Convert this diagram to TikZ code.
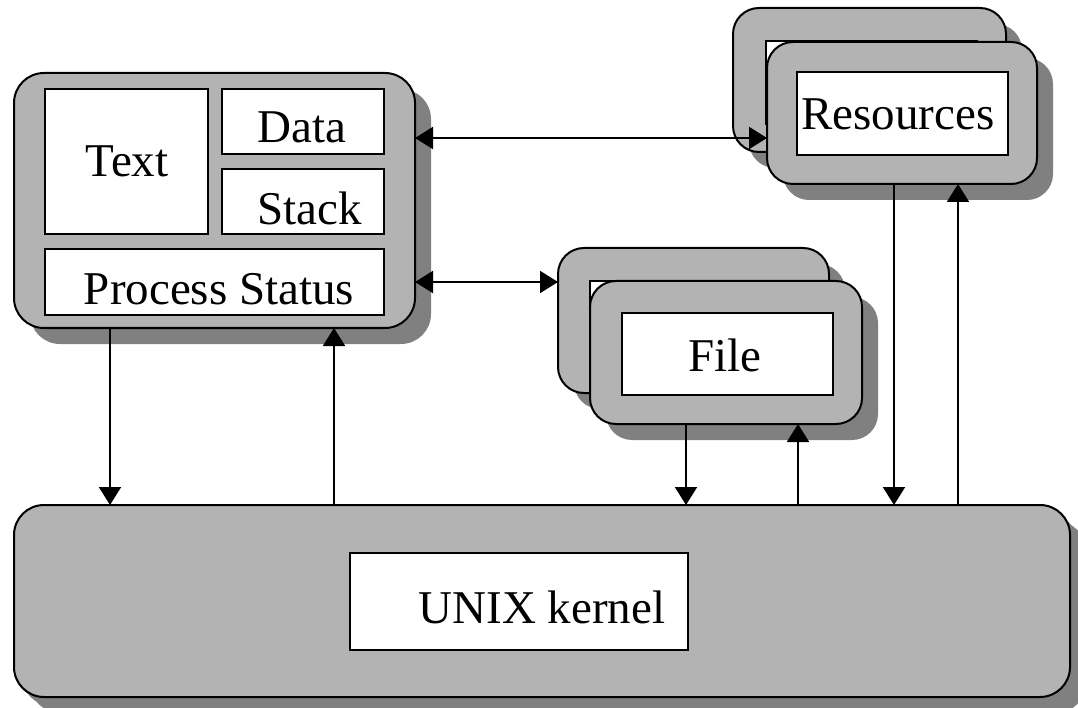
\documentclass[tikz,border=0pt]{standalone}
\usepackage{fontspec}
\setmainfont{Liberation Serif}
\usetikzlibrary{arrows.meta,shadows}
\definecolor{boxgray}{HTML}{B3B3B3}
\definecolor{shadowgray}{HTML}{808080}
\tikzset{
  >={Triangle[length=18pt,width=22pt]},
  outerbox/.style={rectangle,draw,line width=2pt,fill=boxgray,rounded corners=#1,inner sep=0pt,outer sep=0pt,
    drop shadow={shadow xshift=16pt,shadow yshift=-16pt,fill=shadowgray,opacity=1}},
  outerbox/.default=26pt,
  innerbox/.style={rectangle,draw,line width=2pt,fill=white,inner sep=0pt,outer sep=0pt},
  lbl/.style={anchor=base,inner sep=0pt,font=\fontsize{47}{50}\selectfont},
  conn/.style={line width=2pt}
}
\begin{document}
\begin{tikzpicture}[x=1pt,y=-1pt]
\useasboundingbox (0,0) rectangle (1078,708);
% kernel
\node[outerbox=30pt,drop shadow={shadow xshift=8pt,shadow yshift=-9pt,fill=shadowgray,opacity=1},minimum width=1056pt,minimum height=192pt] (kern) at (542,601) {};
\node[innerbox,minimum width=338pt,minimum height=97pt] (kin) at (519,601.5) {};
\node[lbl] (klbl) at (542,623) {UNIX kernel};
% process
\node[outerbox=30pt,minimum width=401pt,minimum height=255pt] (proc) at (214.5,200.5) {};
\node[innerbox,minimum width=163pt,minimum height=145pt] (text) at (126.5,161.5) {};
\node[innerbox,minimum width=162pt,minimum height=65pt] (data) at (303,121.5) {};
\node[innerbox,minimum width=162pt,minimum height=65pt] (stack) at (303,201.5) {};
\node[innerbox,minimum width=339pt,minimum height=66pt] (pstat) at (214.5,282) {};
\node[lbl] (textl) at (127,177) {Text};
\node[lbl] (datal) at (302,143) {Data};
\node[lbl] (stackl) at (310,225) {Stack};
\node[lbl] (pstatl) at (219,305) {Process Status};
% resources
\node[outerbox,minimum width=273pt,minimum height=144pt] (resB) at (869.5,80) {};
\node[innerbox,minimum width=211pt,minimum height=83pt] (resBin) at (871.5,82.5) {};
\node[outerbox,minimum width=270pt,minimum height=142pt] (resF) at (902,113) {};
\node[innerbox,minimum width=211pt,minimum height=83pt] (resFin) at (902.5,113.5) {};
\node[lbl] (resl) at (898,130) {Resources};
% file
\node[outerbox,minimum width=271pt,minimum height=145pt] (fileB) at (693.5,320.5) {};
\node[innerbox,minimum width=211pt,minimum height=82pt] (fileBin) at (695.5,322) {};
\node[outerbox,minimum width=272pt,minimum height=143pt] (fileF) at (726,352.5) {};
\node[innerbox,minimum width=211pt,minimum height=82pt] (fileFin) at (727.5,354) {};
\node[lbl] (filel) at (725,371) {File};
% connectors
\draw[conn,<->] ([yshift=62.5pt]proc.east) -- ([yshift=-25pt]resF.west);
\draw[conn,<->] ([yshift=-81.5pt]proc.east) -- ([yshift=38.5pt]fileB.west);
\draw[conn,->] ([xshift=-104.5pt]proc.south) -- ([xshift=-104.5pt]proc.south |- kern.north);
\draw[conn,<-] ([xshift=119.5pt]proc.south) -- ([xshift=119.5pt]proc.south |- kern.north);
\draw[conn,->] ([xshift=-40pt]fileF.south) -- ([xshift=-40pt]fileF.south |- kern.north);
\draw[conn,<-] ([xshift=72pt]fileF.south) -- ([xshift=72pt]fileF.south |- kern.north);
\draw[conn,->] ([xshift=-8pt]resF.south) -- ([xshift=-8pt]resF.south |- kern.north);
\draw[conn,<-] ([xshift=56pt]resF.south) -- ([xshift=56pt]resF.south |- kern.north);
\end{tikzpicture}
\end{document}
